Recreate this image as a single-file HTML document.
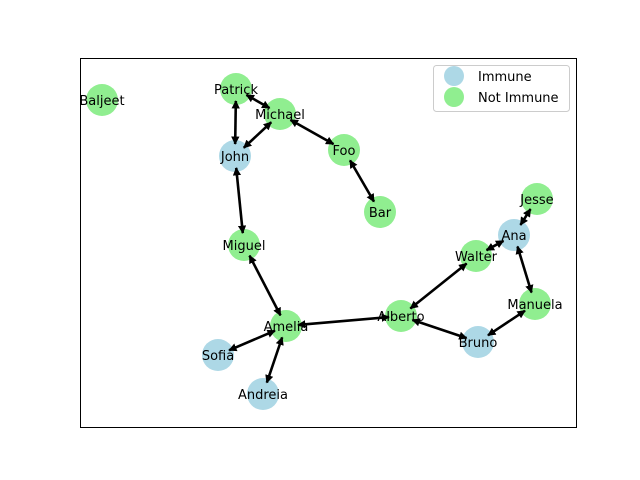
<!DOCTYPE html>
<html><head><meta charset="utf-8"><style>
html,body{margin:0;padding:0;background:#fff;width:640px;height:480px;overflow:hidden}
text{font-family:"DejaVu Sans","Liberation Sans",sans-serif;font-size:13px;fill:#000}
</style></head><body>
<svg id="s" width="640" height="480" viewBox="0 0 640 480" xmlns="http://www.w3.org/2000/svg">
<defs>
<marker id="a" viewBox="0 0 10 10" refX="9" refY="5" markerWidth="3.2" markerHeight="3.2" orient="auto-start-reverse" markerUnits="strokeWidth">
<path d="M0,0 L10,5 L0,10 z" fill="#000"/></marker>
</defs>
<rect x="80.5" y="58.5" width="496" height="369" fill="none" stroke="#000" stroke-width="1"/>
<g id="nodes"></g>
<g id="edges"></g>
<g id="labels"></g>
<rect x="433.5" y="65.5" width="136" height="46" rx="3" fill="#fff" stroke="#ccc"/>
<circle cx="454" cy="76" r="10" fill="#add8e6"/>
<text x="478" y="81">Immune</text>
<circle cx="454" cy="97" r="10" fill="#90ee90"/>
<text x="478" y="102">Not Immune</text>
</svg>
<script>
var B="#add8e6",G="#90ee90";
var N={Baljeet:[102,100,G],Patrick:[236,89,G],Michael:[280,114,G],John:[235,156,B],Foo:[344,150,G],Bar:[380,212,G],Miguel:[244,245,G],Jesse:[537,199,G],Ana:[514,235,B],Walter:[476,256,G],Manuela:[535,304,G],Alberto:[401,316,G],Bruno:[478,342,B],Amelia:[286,326,G],Sofia:[218,355,B],Andreia:[263,394,B]};
var E=[["Patrick","Michael"],["Patrick","John"],["Michael","John"],["Michael","Foo"],["Foo","Bar"],["John","Miguel"],["Miguel","Amelia"],["Amelia","Alberto"],["Amelia","Sofia"],["Amelia","Andreia"],["Alberto","Walter"],["Alberto","Bruno"],["Walter","Ana"],["Ana","Jesse"],["Ana","Manuela"],["Manuela","Bruno"]];
var ns="http://www.w3.org/2000/svg";
function el(t,a,p){var e=document.createElementNS(ns,t);for(var k in a)e.setAttribute(k,a[k]);document.getElementById(p).appendChild(e);return e;}
for(var k in N){var n=N[k];el("circle",{cx:n[0],cy:n[1],r:16,fill:n[2]},"nodes");var t=el("text",{x:n[0],y:n[1]+5,"text-anchor":"middle"},"labels");t.textContent=k;}
E.forEach(function(e){var a=N[e[0]],b=N[e[1]];var dx=b[0]-a[0],dy=b[1]-a[1],L=Math.sqrt(dx*dx+dy*dy),s=12;
el("line",{x1:a[0]+dx/L*s,y1:a[1]+dy/L*s,x2:b[0]-dx/L*s,y2:b[1]-dy/L*s,stroke:"#000","stroke-width":2.6,"marker-start":"url(#a)","marker-end":"url(#a)"},"edges");});
</script>
</body></html>
